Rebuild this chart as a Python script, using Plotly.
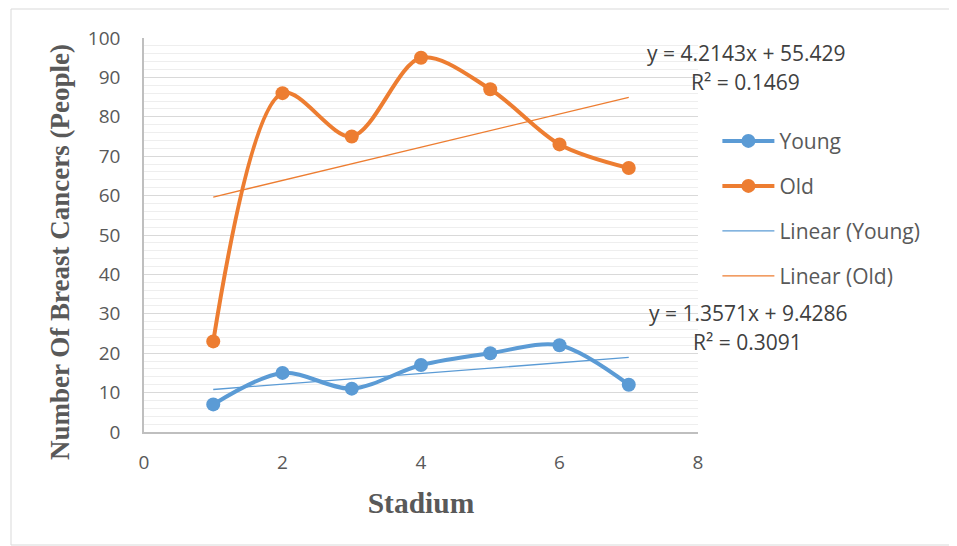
import numpy as np
import plotly.graph_objects as go

stadium = [1, 2, 3, 4, 5, 6, 7]
young = [7, 15, 11, 17, 20, 22, 12]
old = [23, 86, 75, 95, 87, 73, 67]

BLUE = "#5b9bd5"
ORANGE = "#ed7d31"
GRAY = "#595959"

xs = np.array(stadium, dtype=float)
by, ay = np.polyfit(xs, np.array(young, dtype=float), 1)
bo, ao = np.polyfit(xs, np.array(old, dtype=float), 1)

def r2(y, slope, icpt):
    y = np.array(y, dtype=float)
    pred = slope * xs + icpt
    return 1 - np.sum((y - pred) ** 2) / np.sum((y - y.mean()) ** 2)

fig = go.Figure()
fig.add_trace(go.Scatter(x=stadium, y=young, name="Young", mode="lines+markers",
                         line=dict(color=BLUE, width=4, shape="spline", smoothing=0.9),
                         marker=dict(size=14, color=BLUE), legendgroup="a"))
fig.add_trace(go.Scatter(x=stadium, y=old, name="Old", mode="lines+markers",
                         line=dict(color=ORANGE, width=4, shape="spline", smoothing=0.9),
                         marker=dict(size=14, color=ORANGE), legendgroup="b"))
fig.add_trace(go.Scatter(x=[xs[0], xs[-1]], y=[by * xs[0] + ay, by * xs[-1] + ay],
                         name="Linear (Young)", mode="lines",
                         line=dict(color=BLUE, width=1.3), legendgroup="c"))
fig.add_trace(go.Scatter(x=[xs[0], xs[-1]], y=[bo * xs[0] + ao, bo * xs[-1] + ao],
                         name="Linear (Old)", mode="lines",
                         line=dict(color=ORANGE, width=1.3), legendgroup="d"))

SANS = "Open Sans, Liberation Sans, sans-serif"
SERIF = "Liberation Serif, Times New Roman, serif"
tick_font = dict(family=SANS, size=19, color=GRAY)
ann_font = dict(family=SANS, size=21, color="#404040")

# page body has an 8px margin; figure is sized so the plot sits where the reference has it
fig.update_layout(
    width=949, height=538,
    margin=dict(l=136, r=259, t=30, b=114),
    paper_bgcolor="white", plot_bgcolor="white",
    showlegend=True,
    legend=dict(x=1.035, y=0.79, xanchor="left", yanchor="top",
                font=dict(family=SANS, size=21, color=GRAY),
                itemwidth=52,
                tracegroupgap=14.7, bgcolor="rgba(0,0,0,0)"),
    xaxis=dict(range=[0, 8], tickvals=[0, 2, 4, 6, 8], showgrid=False,
               showline=True, linecolor="#bfbfbf", linewidth=1.5, ticks="",
               tickfont=tick_font, zeroline=False, ticklabelstandoff=12,
               title=dict(text="<b>Stadium</b>", standoff=19,
                          font=dict(family=SERIF, size=29.5, color=GRAY))),
    yaxis=dict(range=[0, 100], dtick=10, showgrid=True, gridcolor="#d9d9d9", gridwidth=1.3,
               minor=dict(dtick=2, showgrid=True, gridcolor="#eeeeee", gridwidth=1.3),
               showline=True, linecolor="#bfbfbf", linewidth=1.5, ticks="",
               tickfont=tick_font, zeroline=False, ticklabelstandoff=18),
)

fig.add_annotation(xref="paper", yref="paper", x=(60 - 144) / 554, y=(432 - 252) / 394,
                   xanchor="center", yanchor="middle", textangle=-90, showarrow=False,
                   text="<b>Number Of Breast Cancers (People)</b>",
                   font=dict(family=SERIF, size=27, color=GRAY))

fig.add_annotation(xref="paper", yref="paper", x=(746 - 144) / 554, y=(432 - 53) / 394,
                   xanchor="center", yanchor="middle",
                   text=f"y = {bo:.4f}x + {ao:.3f}", showarrow=False, font=ann_font)
fig.add_annotation(xref="paper", yref="paper", x=(745 - 144) / 554, y=(432 - 82) / 394,
                   xanchor="center", yanchor="middle",
                   text=f"R² = {r2(old, bo, ao):.4f}", showarrow=False, font=ann_font)
fig.add_annotation(xref="paper", yref="paper", x=(748 - 144) / 554, y=(432 - 313) / 394,
                   xanchor="center", yanchor="middle",
                   text=f"y = {by:.4f}x + {ay:.4f}", showarrow=False, font=ann_font)
fig.add_annotation(xref="paper", yref="paper", x=(747 - 144) / 554, y=(432 - 342) / 394,
                   xanchor="center", yanchor="middle",
                   text=f"R² = {r2(young, by, ay):.4f}", showarrow=False, font=ann_font)

fig.add_shape(type="rect", xref="paper", yref="paper",
              x0=(11 - 144) / 554, x1=(956 - 144) / 554,
              y0=(432 - 545) / 394, y1=(432 - 9) / 394,
              line=dict(color="#d9d9d9", width=1), layer="below")

fig.write_html("out.html")
